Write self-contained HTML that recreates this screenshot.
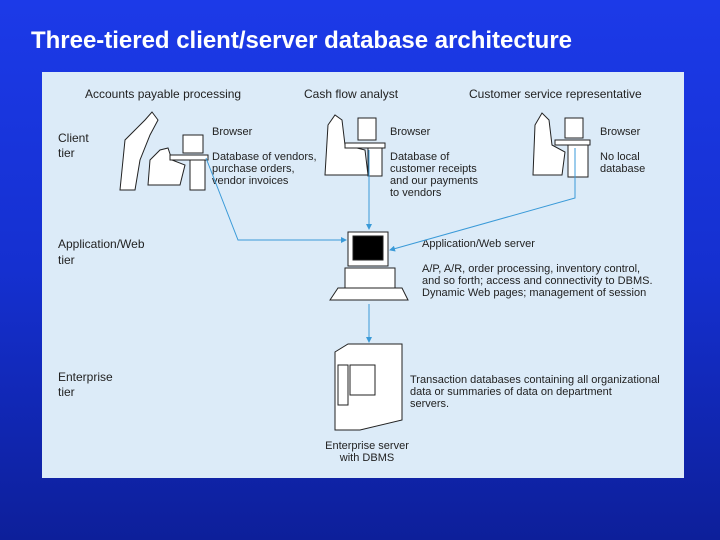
<!DOCTYPE html>
<html><head><style>
html,body{margin:0;width:720px;height:540px;overflow:hidden;background:linear-gradient(180deg,#1c3ae8 0%,#1530d0 50%,#0d1f9a 100%);font-family:"Liberation Sans",sans-serif;}
svg{display:block}
</style></head><body>
<svg width="720" height="540" xmlns="http://www.w3.org/2000/svg" font-family="Liberation Sans, sans-serif">
<defs><marker id="a" markerWidth="6" markerHeight="6" refX="5" refY="3" orient="auto"><path d="M0 0 L6 3 L0 6 Z" fill="#3a9ad8"/></marker></defs>
<text x="31" y="48" font-size="24" font-weight="bold" fill="#fff" textLength="541">Three-tiered client/server database architecture</text>
<rect x="42" y="72" width="642" height="406" fill="#dcebf8"/>
<g font-size="12" fill="#222">
<text x="85" y="98">Accounts payable processing</text>
<text x="304" y="98">Cash flow analyst</text>
<text x="469" y="98">Customer service representative</text>
<text x="58" y="142">Client</text><text x="58" y="157">tier</text>
<text x="58" y="248">Application/Web</text><text x="58" y="264">tier</text>
<text x="58" y="381">Enterprise</text><text x="58" y="396">tier</text>
<g font-size="11">
<text x="212" y="135">Browser</text>
<text x="212" y="160">Database of vendors,</text><text x="212" y="172">purchase orders,</text><text x="212" y="184">vendor invoices</text>
<text x="390" y="135">Browser</text>
<text x="390" y="160">Database of</text><text x="390" y="172">customer receipts</text><text x="390" y="184">and our payments</text><text x="390" y="196">to vendors</text>
<text x="600" y="135">Browser</text>
<text x="600" y="160">No local</text><text x="600" y="172">database</text>
<text x="422" y="247">Application/Web server</text>
<text x="422" y="272">A/P, A/R, order processing, inventory control,</text>
<text x="422" y="284">and so forth; access and connectivity to DBMS.</text>
<text x="422" y="296">Dynamic Web pages; management of session</text>
<text x="410" y="383">Transaction databases containing all organizational</text>
<text x="410" y="395">data or summaries of data on department</text>
<text x="410" y="407">servers.</text>
<text x="367" y="449" text-anchor="middle">Enterprise server</text>
<text x="367" y="461" text-anchor="middle">with DBMS</text>
</g></g>
<g fill="#fff" stroke="#222" stroke-width="1">
<path d="M120 190 L125 140 L145 120 L152 112 L158 120 L150 135 L140 160 L135 190 Z"/>
<path d="M148 185 L150 160 L160 150 L168 148 L172 160 L185 165 L180 185 Z"/>
<rect x="183" y="135" width="20" height="18"/><rect x="170" y="155" width="38" height="5"/><rect x="190" y="160" width="15" height="30"/>
<path d="M325 175 L328 125 L335 115 L342 120 L345 145 L365 150 L368 175 Z"/>
<rect x="358" y="118" width="18" height="22"/><rect x="345" y="143" width="40" height="5"/><rect x="368" y="148" width="14" height="28"/>
<path d="M533 175 L535 125 L542 113 L549 120 L552 145 L565 152 L562 175 Z"/>
<rect x="565" y="118" width="18" height="20"/><rect x="555" y="140" width="35" height="5"/><rect x="568" y="145" width="20" height="32"/>
<rect x="348" y="232" width="40" height="34"/><rect x="353" y="236" width="30" height="24" fill="#000"/>
<rect x="345" y="268" width="50" height="20"/><path d="M330 300 L338 288 L402 288 L408 300 Z"/>
<path d="M335 430 L335 352 L348 344 L402 344 L402 420 L360 430 Z"/>
<rect x="350" y="365" width="25" height="30"/><rect x="338" y="365" width="10" height="40"/>
</g>
<g stroke="#3a9ad8" stroke-width="1" fill="none">
<path d="M206 158 L238 240 L346 240" marker-end="url(#a)"/>
<path d="M369 150 L369 229" marker-end="url(#a)"/>
<path d="M575 148 L575 198 L390 250" marker-end="url(#a)"/>
<path d="M369 304 L369 342" marker-end="url(#a)"/>
</g>
</svg>
</body></html>
